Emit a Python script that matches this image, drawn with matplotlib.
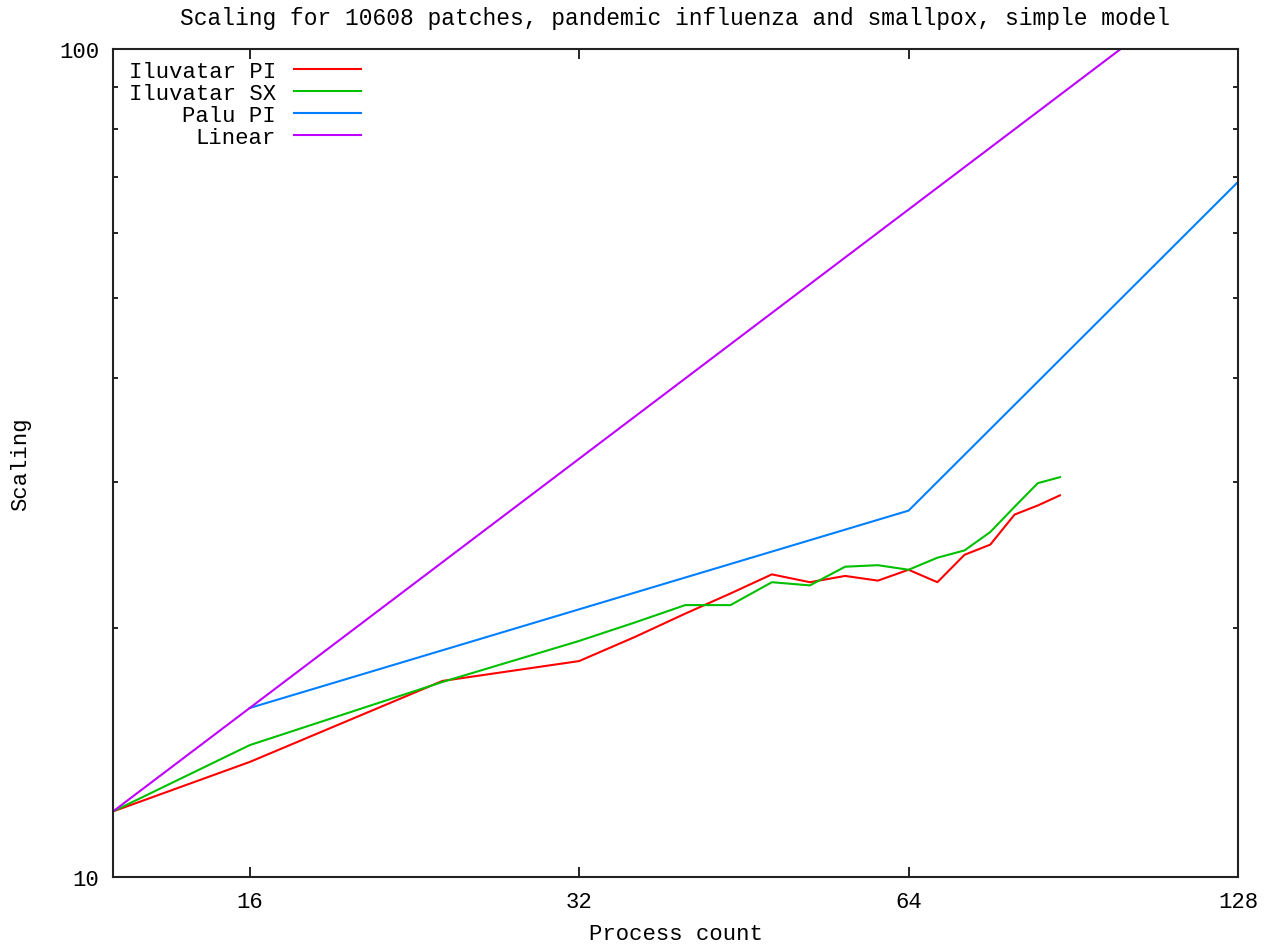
import matplotlib
matplotlib.use("Agg")
import matplotlib.pyplot as plt
from matplotlib.ticker import FixedLocator, NullLocator, NullFormatter, FixedFormatter

# process counts and measured scaling
procs = [12, 16, 24, 32, 36, 40, 44, 48, 52, 56, 60, 64, 68, 72, 76, 80, 84, 88]
iluvatar_pi = [12.0, 13.77, 17.25, 18.23, 19.5, 20.8, 22.0, 23.2, 22.7, 23.1,
               22.8, 23.5, 22.7, 24.5, 25.2, 27.4, 28.1, 28.9]
iluvatar_sx = [12.0, 14.43, 17.2, 19.28, 20.3, 21.3, 21.3, 22.7, 22.5, 23.7,
               23.8, 23.5, 24.3, 24.8, 26.1, 28.0, 29.9, 30.4]

palu_procs = [16, 64, 128]
palu_pi = [16.0, 27.7, 69.1]

linear_procs = [12, 128]
linear = [12, 128]

x_ticks = [16, 32, 64, 128]
y_ticks = [10, 100]
y_minor = [20, 30, 40, 50, 60, 70, 80, 90]

font = "Liberation Mono"
plt.rcParams["font.family"] = [font, "DejaVu Sans Mono"]
plt.rcParams["font.size"] = 16

fig = plt.figure(figsize=(12.7, 9.45), dpi=100)
ax = fig.add_axes([113 / 1270, 1 - 878 / 945, 1125 / 1270, 828 / 945])

ax.plot(procs, iluvatar_pi, color="#ff0000", lw=1.5, label="Iluvatar PI")
ax.plot(procs, iluvatar_sx, color="#00c000", lw=1.5, label="Iluvatar SX")
ax.plot(palu_procs, palu_pi, color="#0080ff", lw=1.5, label="Palu PI")
ax.plot(linear_procs, linear, color="#c000ff", lw=1.5, label="Linear")

ax.set_xscale("log", base=2)
ax.set_yscale("log")
ax.set_xlim(12, 128)
ax.set_ylim(10, 100)

ax.xaxis.set_major_locator(FixedLocator(x_ticks))
ax.xaxis.set_major_formatter(FixedFormatter([str(t) for t in x_ticks]))
ax.xaxis.set_minor_locator(NullLocator())
ax.yaxis.set_major_locator(FixedLocator(y_ticks))
ax.yaxis.set_major_formatter(FixedFormatter([str(t) for t in y_ticks]))
ax.yaxis.set_minor_locator(FixedLocator(y_minor))
ax.yaxis.set_minor_formatter(NullFormatter())

ax.tick_params(which="major", direction="in", length=7, width=1.2,
               top=True, right=True, labelsize=16, pad=10)
ax.tick_params(which="minor", direction="in", length=3.3, width=1.2,
               top=True, right=True)
for s in ax.spines.values():
    s.set_linewidth(1.5)
    s.set_color("#222222")

ax.set_title("Scaling for 10608 patches, pandemic influenza and smallpox, simple model",
             fontsize=16.5, pad=18)
ax.set_xlabel("Process count", fontsize=16, labelpad=8)
ax.set_ylabel("Scaling", fontsize=16, labelpad=20)

leg = ax.legend(loc="upper left", bbox_to_anchor=(0.0142, 0.986), frameon=False,
                markerfirst=False, handlelength=3.0, handletextpad=0.8,
                labelspacing=0.05, borderaxespad=0, borderpad=0, fontsize=16)

fig.savefig("out.png", dpi=100)
plt.close(fig)
